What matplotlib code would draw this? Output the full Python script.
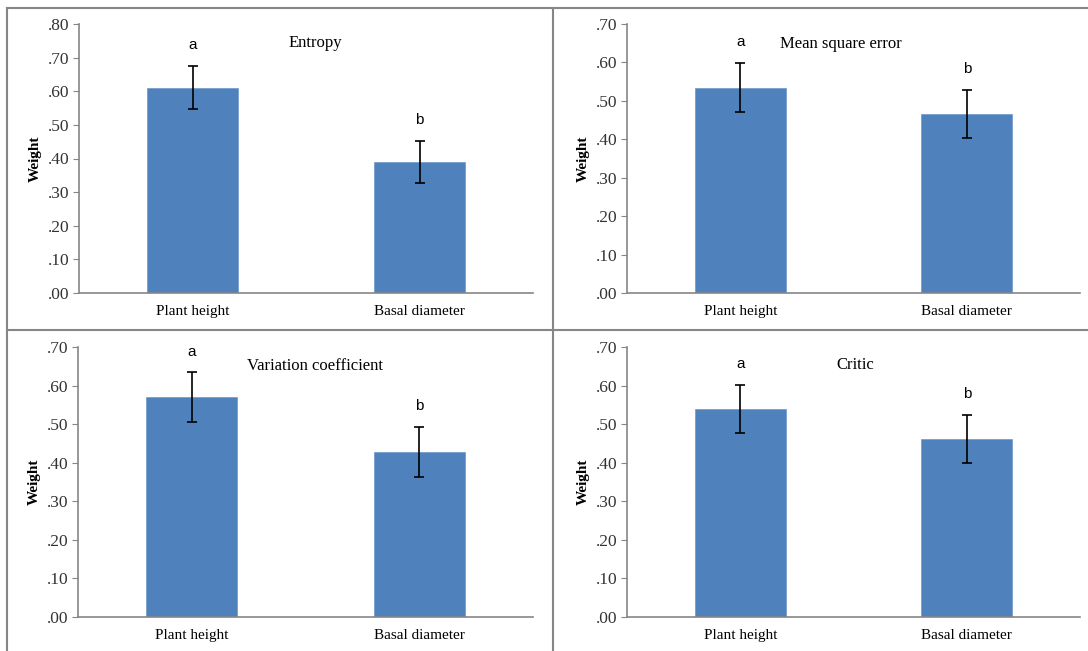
import matplotlib.pyplot as plt
from matplotlib.lines import Line2D
from matplotlib.ticker import FuncFormatter

# --- data ---
categories = ["Plant height", "Basal diameter"]
titles = ["Entropy", "Mean square error", "Variation coefficient", "Critic"]
weights = [
    [0.610, 0.390],
    [0.534, 0.466],
    [0.570, 0.428],
    [0.539, 0.461],
]
errors = [
    [0.064, 0.063],
    [0.064, 0.063],
    [0.064, 0.064],
    [0.063, 0.063],
]
letters = [["a", "b"], ["a", "b"], ["a", "b"], ["a", "b"]]
ymax = [0.80, 0.70, 0.70, 0.70]

# --- layout (pixels) ---
W, H = 1088, 651
fig = plt.figure(figsize=(W / 100, H / 100), dpi=100)
plt.rcParams["font.family"] = "Liberation Serif"

# left, right, top, bottom in pixels
boxes = [(79, 533, 24, 293), (627, 1080, 24, 293),
         (78, 533, 347, 617), (627, 1080, 347, 617)]
title_pos = [(0.52, 0.93), (0.472, 0.925), (0.52, 0.928), (0.503, 0.935)]

grey = "#868686"
bar_color = "#4F81BD"
fmt = FuncFormatter(lambda v, p: f"{v:.2f}".lstrip("0"))

for i in range(4):
    l, r, t, b = boxes[i]
    ax = fig.add_axes([l / W, 1 - b / H, (r - l) / W, (b - t) / H])
    x = range(len(categories))
    ax.bar(x, weights[i], width=0.4, color=bar_color, edgecolor="#6d97cc", linewidth=0.5,
           yerr=errors[i], capsize=3.5,
           error_kw=dict(ecolor="black", elinewidth=1.2, capthick=1.2))
    for j in x:
        ax.annotate(letters[i][j], (j, weights[i][j] + errors[i][j]),
                    xytext=(0, 10), textcoords="offset points", ha="center", va="bottom",
                    fontsize=11, family="Liberation Sans")
    ax.set_xlim(-0.5, 1.5)
    ax.set_ylim(0, ymax[i])
    ax.set_yticks([k / 10 for k in range(int(round(ymax[i] * 10)) + 1)])
    ax.yaxis.set_major_formatter(fmt)
    ax.set_xticks(list(x))
    ax.set_xticklabels(categories, fontsize=11)
    for lab in ax.get_xticklabels():
        lab.set_verticalalignment("baseline")
    ax.tick_params(axis="x", length=0, pad=16)
    ax.tick_params(axis="y", length=4, color=grey, labelsize=12.5, labelcolor="#333333", pad=3)
    for s in ["top", "right"]:
        ax.spines[s].set_visible(False)
    for s in ["left", "bottom"]:
        ax.spines[s].set_color(grey)
        ax.spines[s].set_linewidth(1.2)
    ax.set_ylabel("Weight", fontsize=11, fontweight="bold", labelpad=4)
    ax.text(title_pos[i][0], title_pos[i][1], titles[i], transform=ax.transAxes,
            ha="center", va="center", fontsize=12)

# panel frame lines
def px_line(x0, y0, x1, y1):
    fig.add_artist(Line2D([x0 / W, x1 / W], [1 - y0 / H, 1 - y1 / H],
                          color=grey, linewidth=1.5, transform=fig.transFigure))

px_line(7, 8, W, 8)
px_line(7, 8, 7, H)
px_line(553, 8, 553, H)
px_line(7, 330, W, 330)

fig.savefig("out.png", dpi=100)
